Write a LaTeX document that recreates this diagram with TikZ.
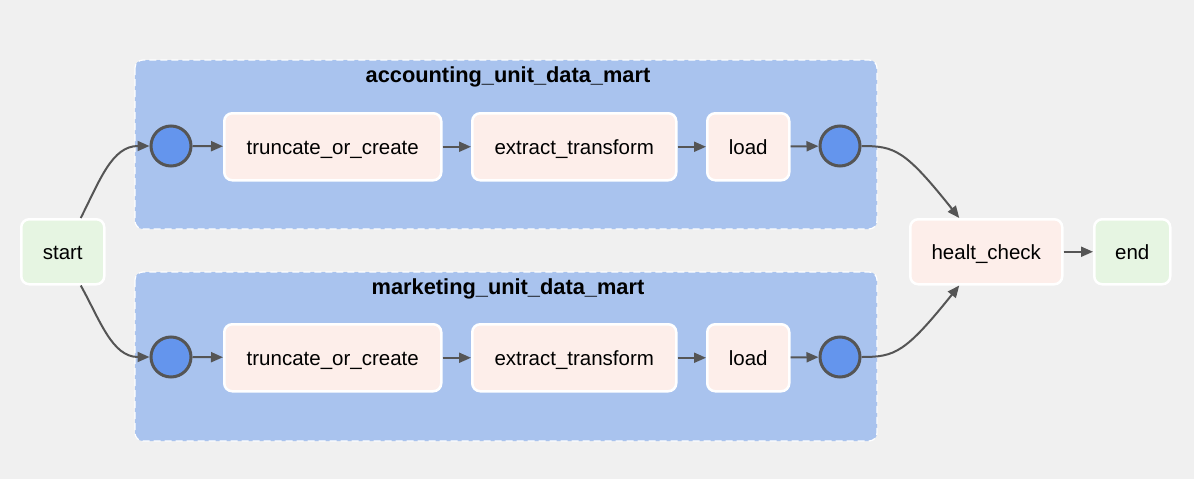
\documentclass[tikz,border=0pt]{standalone}
\usepackage{fontspec}
\setmainfont{Liberation Sans}
\usetikzlibrary{arrows.meta}
\definecolor{bg}{HTML}{F0F0F0}
\definecolor{clusterfill}{HTML}{A9C3EE}
\definecolor{taskfill}{HTML}{FDEEEA}
\definecolor{termfill}{HTML}{E6F5E2}
\definecolor{circfill}{HTML}{6495ED}
\definecolor{edgecol}{HTML}{555555}
\tikzset{
  cluster/.style={fill=clusterfill, draw=white, line width=1.2pt, dash pattern=on 7pt off 4pt, rounded corners=8pt},
  cluslabel/.style={font=\fontsize{21.8}{24}\selectfont\bfseries, inner sep=0pt, anchor=base},
  task/.style={draw=white, line width=2.5pt, fill=taskfill, rounded corners=8pt, font=\fontsize{20.5}{24}\selectfont, inner sep=0pt, text height=16pt, text depth=0pt, anchor=north west},
  term/.style={task, fill=termfill},
  joint/.style={circle, draw=edgecol, fill=circfill, line width=3pt, minimum size=40pt, inner sep=0pt},
  edge/.style={draw=edgecol, line width=2pt, -{Triangle[length=12pt,width=10pt]}},
}
\begin{document}
\begin{tikzpicture}[x=1pt,y=-1pt]
\fill[bg] (0,0) rectangle (1194,479);
\useasboundingbox (0,0) rectangle (1194,479);
% clusters
\draw[cluster] (135,60) rectangle (877,229);
\node[cluslabel] (acc) at (508,82) {accounting\_unit\_data\_mart};
\draw[cluster] (135,272) rectangle (877,441);
\node[cluslabel] (mkt) at (508,294) {marketing\_unit\_data\_mart};
% top row
\node[joint] (a1) at (171,146) {};
\node[task, minimum width=217pt, minimum height=67pt] (a2) at (223,112) {truncate\_or\_create};
\node[task, minimum width=204pt, minimum height=67pt] (a3) at (471,112) {extract\_transform};
\node[task, minimum width=82pt, minimum height=67pt] (a4) at (706,112) {load};
\node[joint] (a5) at (840,146) {};
% bottom row
\node[joint] (b1) at (171,357) {};
\node[task, minimum width=217pt, minimum height=67pt] (b2) at (223,323) {truncate\_or\_create};
\node[task, minimum width=204pt, minimum height=67pt] (b3) at (471,323) {extract\_transform};
\node[task, minimum width=82pt, minimum height=67pt] (b4) at (706,323) {load};
\node[joint] (b5) at (840,357) {};
% start / health / end
\node[term, minimum width=83pt, minimum height=65pt] (start) at (20,218) {start};
\node[task, minimum width=152pt, minimum height=65pt] (hc) at (909,218) {healt\_check};
\node[term, minimum width=76pt, minimum height=65pt] (end) at (1093,218) {end};
% edges
\draw[edge] ([xshift=18pt]start.north) .. controls (100,180) and (112,146) .. (a1.west);
\draw[edge] ([xshift=18pt]start.south) .. controls (100,320) and (112,357) .. (b1.west);
\draw[edge] (a1) -- (a2);
\draw[edge] (a2) -- (a3);
\draw[edge] (a3) -- (a4);
\draw[edge] (a4) -- (a5);
\draw[edge] (b1) -- (b2);
\draw[edge] (b2) -- (b3);
\draw[edge] (b3) -- (b4);
\draw[edge] (b4) -- (b5);
\draw[edge] (a5.east) .. controls (895,146) and (905,150) .. ([xshift=-27pt]hc.north);
\draw[edge] (b5.east) .. controls (895,357) and (905,353) .. ([xshift=-27pt]hc.south);
\draw[edge] (hc) -- (end);
\end{tikzpicture}
\end{document}
